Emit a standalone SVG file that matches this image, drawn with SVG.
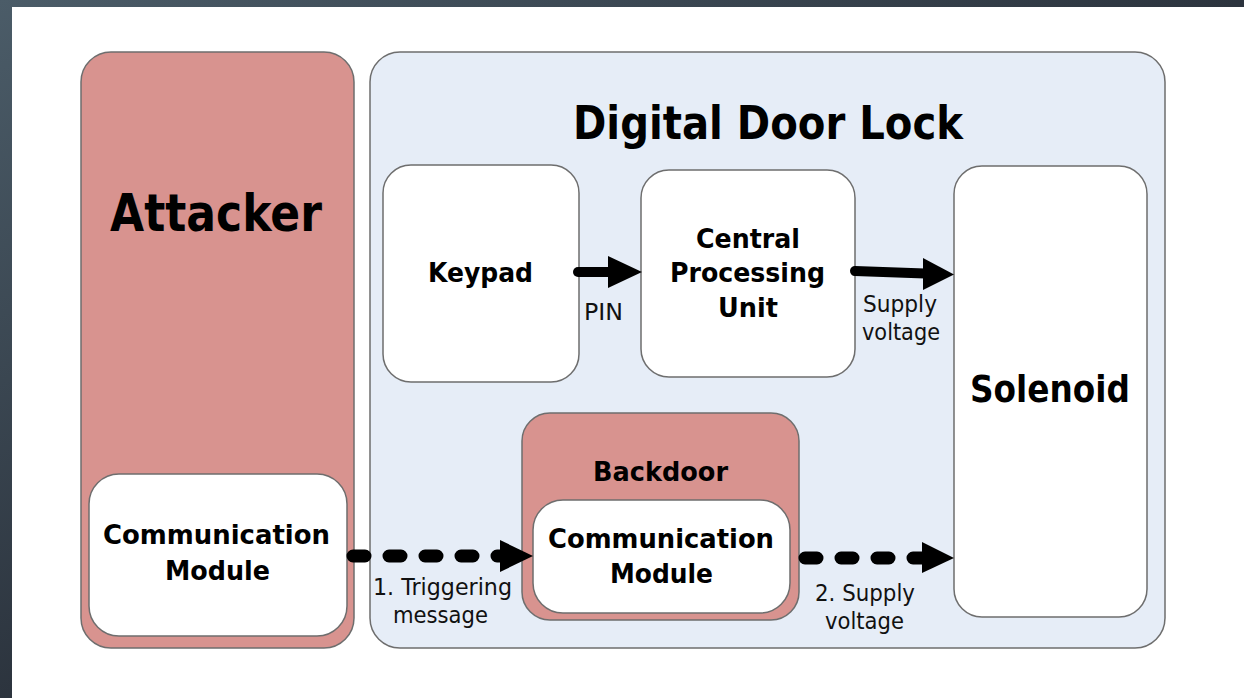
<svg xmlns="http://www.w3.org/2000/svg" width="1244" height="698" viewBox="0 0 1244 698">
  <defs>
    <linearGradient id="frame" x1="0" y1="0" x2="1" y2="1">
      <stop offset="0" stop-color="#4b5c68"/>
      <stop offset="0.5" stop-color="#2c343e"/>
      <stop offset="1" stop-color="#1c2028"/>
    </linearGradient>
    <style>
      .box { stroke: #6e6e6e; stroke-width: 1.5; }
      .pink { fill: #d8938f; }
      .blue { fill: #e6edf7; }
      .white { fill: #ffffff; }
      .bold { font-family: "DejaVu Sans", Verdana, sans-serif; font-weight: bold; fill: #000; text-anchor: middle; }
      .lbl { font-family: "DejaVu Sans", Verdana, sans-serif; font-size: 23px; fill: #111; text-anchor: middle; }
      .solid { stroke: #000; stroke-width: 10; stroke-linecap: round; fill: none; }
      .dash { stroke: #000; stroke-width: 13; stroke-linecap: round; stroke-dasharray: 12 24; fill: none; }
      .head { fill: #000; }
    </style>
  </defs>

  <!-- slide frame -->
  <rect x="0" y="0" width="1244" height="698" fill="url(#frame)"/>
  <rect x="12" y="7" width="1232" height="691" fill="#ffffff"/>

  <!-- Attacker side -->
  <g id="attacker">
    <rect class="box pink" x="81" y="52" width="273" height="596" rx="30"/>
    <text class="bold" x="216" y="231" font-size="52" textLength="212" lengthAdjust="spacingAndGlyphs">Attacker</text>
  </g>
  <g id="attacker-comm">
    <rect class="box white" x="89" y="474" width="258" height="162" rx="30"/>
    <text class="bold" x="216.5" y="544" font-size="27" textLength="227" lengthAdjust="spacingAndGlyphs">Communication</text>
    <text class="bold" x="217.5" y="580" font-size="27" textLength="105" lengthAdjust="spacingAndGlyphs">Module</text>
  </g>

  <!-- Door lock -->
  <g id="door-lock">
    <rect class="box blue" x="370" y="52" width="795" height="596" rx="30"/>
    <text class="bold" x="768" y="139" font-size="46" textLength="390" lengthAdjust="spacingAndGlyphs">Digital Door Lock</text>
  </g>
  <g id="keypad">
    <rect class="box white" x="383" y="165" width="196" height="217" rx="28"/>
    <text class="bold" x="480.5" y="282" font-size="27" textLength="105" lengthAdjust="spacingAndGlyphs">Keypad</text>
  </g>
  <g id="cpu">
    <rect class="box white" x="641" y="170" width="214" height="207" rx="28"/>
    <text class="bold" x="748" y="248" font-size="27" textLength="104" lengthAdjust="spacingAndGlyphs">Central</text>
    <text class="bold" x="747.5" y="282" font-size="27" textLength="155" lengthAdjust="spacingAndGlyphs">Processing</text>
    <text class="bold" x="748" y="317" font-size="27" textLength="60" lengthAdjust="spacingAndGlyphs">Unit</text>
  </g>
  <g id="solenoid">
    <rect class="box white" x="954" y="166" width="193" height="451" rx="28"/>
    <text class="bold" x="1050" y="402" font-size="38" textLength="160" lengthAdjust="spacingAndGlyphs">Solenoid</text>
  </g>
  <g id="backdoor">
    <rect class="box pink" x="522" y="413" width="277" height="207" rx="28"/>
    <text class="bold" x="660.5" y="481" font-size="26" textLength="135" lengthAdjust="spacingAndGlyphs">Backdoor</text>
  </g>
  <g id="backdoor-comm">
    <rect class="box white" x="533" y="500" width="257" height="113" rx="30"/>
    <text class="bold" x="661" y="548" font-size="27" textLength="226" lengthAdjust="spacingAndGlyphs">Communication</text>
    <text class="bold" x="661.5" y="583" font-size="27" textLength="103" lengthAdjust="spacingAndGlyphs">Module</text>
  </g>

  <!-- Connectors -->
  <g id="connectors">
    <!-- PIN: keypad to CPU -->
    <line class="solid" x1="578" y1="272" x2="610" y2="272"/>
    <polygon class="head" points="608,256 642,272 608,288"/>
    <text class="lbl" x="603.5" y="320" textLength="39" lengthAdjust="spacingAndGlyphs">PIN</text>

    <!-- CPU to solenoid -->
    <line class="solid" x1="855" y1="271" x2="925" y2="273.5"/>
    <polygon class="head" points="923,258 954,274.5 923,290"/>
    <text class="lbl" x="900" y="312" textLength="74" lengthAdjust="spacingAndGlyphs">Supply</text>
    <text class="lbl" x="901" y="340" textLength="78" lengthAdjust="spacingAndGlyphs">voltage</text>

    <!-- attacker module to backdoor -->
    <path class="dash" d="M353,556 H500" stroke-dasharray="10 26"/>
    <polygon class="head" points="500,540 533,556 500,572"/>
    <text class="lbl" x="442.5" y="595" textLength="139" lengthAdjust="spacingAndGlyphs">1. Triggering</text>
    <text class="lbl" x="440.5" y="623" textLength="95" lengthAdjust="spacingAndGlyphs">message</text>

    <!-- backdoor to solenoid -->
    <path class="dash" d="M805,558 H923" stroke-dasharray="9 28"/>
    <polygon class="head" points="922,542 954,558 922,573"/>
    <text class="lbl" x="865" y="601" textLength="100" lengthAdjust="spacingAndGlyphs">2. Supply</text>
    <text class="lbl" x="864.5" y="629" textLength="79" lengthAdjust="spacingAndGlyphs">voltage</text>
  </g>
</svg>
